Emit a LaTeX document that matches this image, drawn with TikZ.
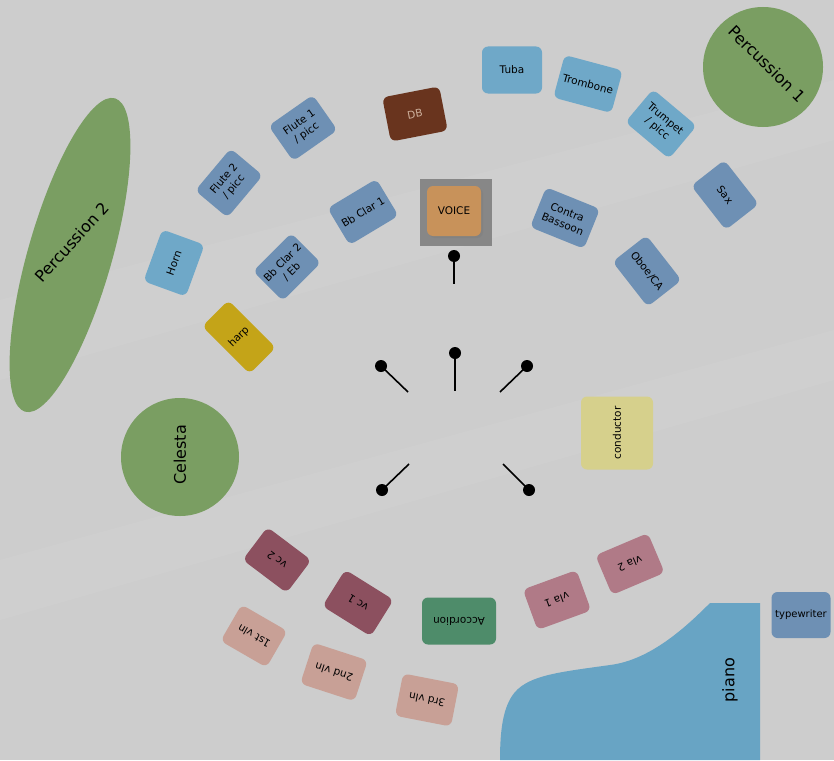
\documentclass[tikz,border=0pt]{standalone}
\usepackage{fontspec}
\setmainfont{DejaVu Sans}
\usetikzlibrary{shapes.geometric,shadows}
\definecolor{bg}{RGB}{205,205,205}
\definecolor{lblue}{RGB}{111,168,200}
\definecolor{sblue}{RGB}{110,144,180}
\definecolor{dbbrown}{RGB}{105,52,30}
\definecolor{dbtext}{RGB}{205,175,155}
\definecolor{harpc}{RGB}{196,164,24}
\definecolor{vcc}{RGB}{140,80,95}
\definecolor{vlac}{RGB}{176,122,135}
\definecolor{vlnc}{RGB}{200,160,150}
\definecolor{accc}{RGB}{78,140,106}
\definecolor{condc}{RGB}{214,208,140}
\definecolor{grn}{RGB}{122,158,98}
\definecolor{voicec}{RGB}{200,146,90}
\definecolor{voicebgc}{RGB}{135,135,135}
\definecolor{pianoc}{RGB}{104,164,196}
\tikzset{
  inst/.style={rounded corners=6pt, minimum width=57pt, minimum height=43pt,
    align=center, font=\fontsize{10.5}{12.5}\selectfont, inner sep=1pt, text=black},
  big/.style={font=\fontsize{16}{19}\selectfont, text=black},
  standdot/.style={circle, fill=black, minimum size=12pt, inner sep=0pt},
  standline/.style={line width=1.6pt, black}
}
\begin{document}
\begin{tikzpicture}[x=1pt,y=-1pt]
\useasboundingbox (0,0) rectangle (834,760);
\fill[bg] (0,0) rectangle (834,760);
\fill[white,opacity=0.05] (0,300) -- (834,80) -- (834,140) -- (0,380) -- cycle;
\fill[white,opacity=0.05] (0,560) -- (834,330) -- (834,380) -- (0,620) -- cycle;

% percussion and celesta
\node[ellipse, fill=grn, minimum width=326pt, minimum height=84pt, inner sep=0pt, rotate=74] (perc2) at (70,255) {};
\node[big, rotate=48] (perc2t) at (72,242) {Percussion 2};
\node[circle, fill=grn, minimum size=120pt, inner sep=0pt] (perc1) at (763,67) {};
\node[big, rotate=-45] (perc1t) at (767,64) {Percussion 1};
\node[circle, fill=grn, minimum size=118pt, inner sep=0pt] (cel) at (180,457) {};
\node[big, rotate=90] (celt) at (180,455) {Celesta};

% piano
\fill[pianoc] (760,760) -- (760,603) -- (710,603)
  .. controls (685,628) and (650,660) .. (610,665)
  .. controls (560,672) and (530,675) .. (515,692)
  .. controls (503,706) and (500,730) .. (500,760) -- cycle;
\node[big, rotate=90] (pianot) at (730,680) {piano};

% brass
\node[inst, fill=lblue, minimum width=60pt, minimum height=47pt] (tuba) at (512,70) {Tuba};
\node[inst, fill=lblue, minimum width=60pt, minimum height=44pt, rotate=-15] (tbn) at (588,84) {Trombone};
\node[inst, fill=lblue, rotate=-40] (tpt) at (661,124) {Trumpet\\/ picc};
\node[inst, fill=lblue, minimum width=55pt, minimum height=45pt, rotate=70] (horn) at (174,263) {Horn};

% woodwinds
\node[inst, fill=sblue, minimum width=56pt, minimum height=42pt, rotate=-52] (sax) at (725,195) {Sax};
\node[inst, fill=sblue, rotate=-52] (oboe) at (647,271) {Oboe/CA};
\node[inst, fill=sblue, minimum width=58pt, rotate=-22] (cbn) at (565,218) {Contra\\Bassoon};
\node[inst, fill=sblue, rotate=31] (cl1) at (363,212) {Bb Clar 1};
\node[inst, fill=sblue, minimum width=54pt, rotate=35] (fl1) at (303,128) {Flute 1\\/ picc};
\node[inst, fill=sblue, minimum width=55pt, minimum height=42pt, rotate=50] (fl2) at (229,183) {Flute 2\\/ picc};
\node[inst, fill=sblue, minimum width=54pt, minimum height=42pt, rotate=45] (cl2) at (287,267) {Bb Clar 2\\/ Eb};
\node[inst, fill=sblue, minimum width=59pt, minimum height=46pt, font=\fontsize{10}{12}\selectfont] (tw) at (801,615) {typewriter};

% DB, harp
\node[inst, fill=dbbrown, text=dbtext, minimum width=58pt, minimum height=45pt, rotate=11] (db) at (415,114) {DB};
\node[inst, fill=harpc, minimum width=37pt, minimum height=67pt, rotate=45] (harp) at (239,337) {harp};

% voice
\node[fill=voicebgc, minimum width=72pt, minimum height=67pt, inner sep=0pt] (voicebg) at (456,212.5) {};
\node[inst, fill=voicec, minimum width=54pt, minimum height=50pt,
  drop shadow={shadow xshift=2pt, shadow yshift=-2pt, opacity=0.6}] (voice) at (454,211) {VOICE};

% conductor
\node[inst, fill=condc, minimum width=73pt, minimum height=72pt, rotate=90] (cond) at (617,433) {conductor};

% strings
\node[inst, fill=vcc, minimum width=55pt, minimum height=41pt, rotate=143] (vc2) at (277,560) {vc 2};
\node[inst, fill=vcc, rotate=148] (vc1) at (358,603) {vc 1};
\node[inst, fill=vlnc, minimum width=53pt, minimum height=42pt, rotate=150] (vln1) at (254,636) {1st vln};
\node[inst, fill=vlnc, rotate=162] (vln2) at (334,672) {2nd vln};
\node[inst, fill=vlnc, rotate=169] (vln3) at (427,700) {3rd vln};
\node[inst, fill=accc, minimum width=74pt, minimum height=47pt, rotate=180] (acc) at (459,621) {Accordion};
\node[inst, fill=vlac, rotate=-160] (vla1) at (557,600) {vla 1};
\node[inst, fill=vlac, rotate=-157] (vla2) at (630,564) {vla 2};

% stands
\node[standdot] (sv) at (454,256) {};
\coordinate (sve) at (454,284);
\draw[standline] (sv.center) -- (sve);
\node[standdot] (s1) at (381,366) {};
\coordinate (s1e) at (408,392);
\draw[standline] (s1.center) -- (s1e);
\node[standdot] (s2) at (455,353) {};
\coordinate (s2e) at (455,391);
\draw[standline] (s2.center) -- (s2e);
\node[standdot] (s3) at (527,366) {};
\coordinate (s3e) at (500,392);
\draw[standline] (s3.center) -- (s3e);
\node[standdot] (s4) at (382,490) {};
\coordinate (s4e) at (409,464);
\draw[standline] (s4.center) -- (s4e);
\node[standdot] (s5) at (529,490) {};
\coordinate (s5e) at (503,464);
\draw[standline] (s5.center) -- (s5e);
\end{tikzpicture}
\end{document}
